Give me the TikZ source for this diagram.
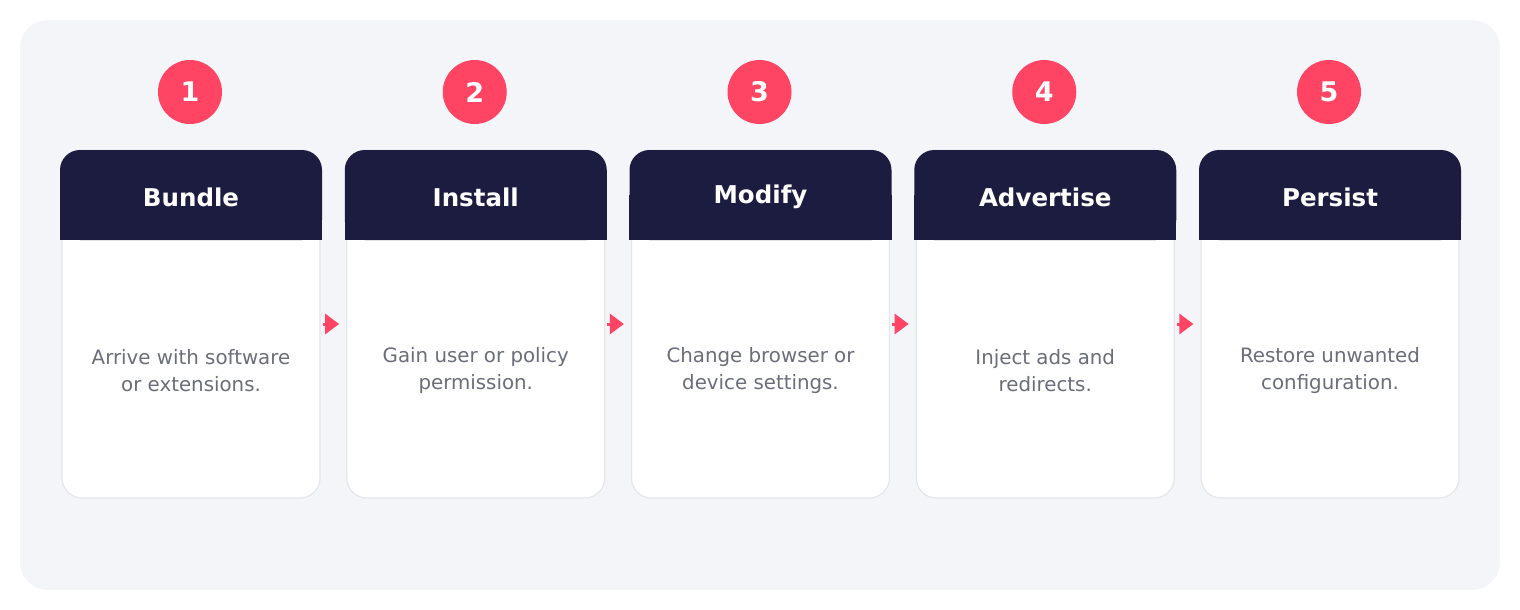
\documentclass[tikz,border=0pt]{standalone}
\usepackage{fontspec}
\setmainfont{DejaVu Sans}
\usetikzlibrary{arrows.meta}
\definecolor{panelbg}{HTML}{F4F5F9}
\definecolor{navy}{HTML}{1B1C3F}
\definecolor{accent}{HTML}{FF4563}
\definecolor{bodytext}{HTML}{6B6D7A}
\definecolor{cardborder}{HTML}{E4E6EC}
\tikzset{
  cardbody/.style={draw=cardborder, line width=1.2pt, fill=white, rounded corners=20pt,
    minimum width=258pt, minimum height=348pt, inner sep=0pt},
  headbox/.style={fill=navy, rounded corners=20pt, minimum width=262pt, minimum height=90pt, inner sep=0pt},
  headtext/.style={text=white, font=\bfseries\fontsize{24.5}{28}\selectfont, inner sep=0pt},
  numcircle/.style={circle, fill=accent, minimum size=64pt, inner sep=0pt, text=white,
    font=\bfseries\fontsize{27}{30}\selectfont},
  desc/.style={text=bodytext, align=center, font=\fontsize{19.8}{27}\selectfont, inner sep=0pt},
  flowarrow/.style={draw=accent, fill=accent, line width=3pt, -{Triangle[width=20pt,length=14pt]},
    shorten <=2pt, shorten >=7pt}
}
\begin{document}
\begin{tikzpicture}[x=1pt,y=-1pt]
\useasboundingbox (0,0) rectangle (1520,610);
\fill[panelbg, rounded corners=28pt] (20,20) rectangle (1500,590);
\foreach \i/\title/\desca/\descb in {1/Bundle/Arrive with software/or extensions.,
  2/Install/Gain user or policy/permission.,
  3/Modify/Change browser or/device settings.,
  4/Advertise/Inject ads and/redirects.,
  5/Persist/Restore unwanted/configuration.}{
  \pgfmathsetmacro{\cx}{191+284.75*(\i-1)}
  \node[cardbody] (c\i) at (\cx,324) {};
  \node[headbox] (h\i) at (\cx,195) {};
  \fill[navy] (h\i.west) rectangle (h\i.south east);
  \node[headtext] (t\i) at (\cx,197) {\title};
  \node[numcircle] (n\i) at (\cx-1,92) {\i};
  \node[desc] (d\i) at (\cx,371) {\desca\\\descb};
}
\foreach \a/\b in {1/2,2/3,3/4,4/5}{
  \draw[flowarrow] (c\a.east) -- (c\b.west);
}
\end{tikzpicture}
\end{document}
